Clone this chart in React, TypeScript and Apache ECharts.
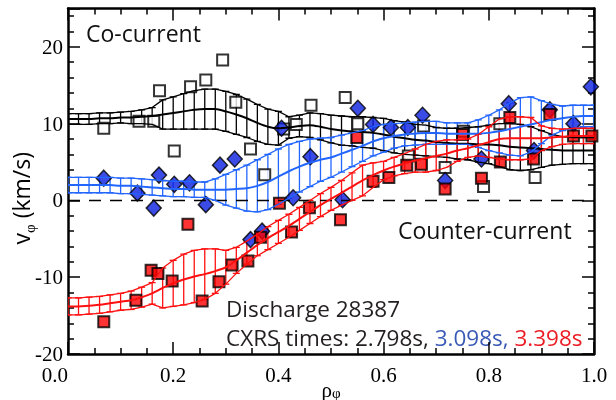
import React, { useEffect, useRef } from "react";
import * as echarts from "echarts";

// radial grid of the fitted profiles
const rho = [0, 0.02, 0.04, 0.06, 0.08, 0.1, 0.12, 0.14, 0.16, 0.18, 0.2, 0.22, 0.24, 0.26, 0.28, 0.3, 0.32, 0.34, 0.36, 0.38, 0.4, 0.42, 0.44, 0.46, 0.48, 0.5, 0.52, 0.54, 0.56, 0.58, 0.6, 0.62, 0.64, 0.66, 0.68, 0.7, 0.72, 0.74, 0.76, 0.78, 0.8, 0.82, 0.84, 0.86, 0.88, 0.9, 0.92, 0.94, 0.96, 0.98, 1.0];

// 2.798 s (black)
const fitBlack = [10.6, 10.6, 10.6, 10.7, 10.7, 10.8, 10.8, 10.9, 11.0, 11.2, 11.4, 11.6, 11.8, 11.9, 11.9, 11.6, 11.2, 10.7, 10.1, 9.6, 9.4, 9.5, 9.7, 9.8, 9.6, 9.3, 9.1, 9.0, 8.9, 8.8, 8.6, 8.3, 8.1, 7.9, 7.8, 7.6, 7.5, 7.4, 7.4, 7.3, 7.3, 7.2, 7.0, 6.9, 6.8, 6.7, 6.6, 6.5, 6.5, 6.5, 6.5];
const errBlack = [0.7, 0.7, 0.7, 0.7, 0.7, 0.7, 0.8, 0.9, 1.1, 1.9, 2.1, 2.3, 2.5, 2.6, 2.6, 2.6, 2.6, 2.5, 2.4, 2.3, 2.2, 1.4, 1.4, 1.6, 1.7, 1.8, 1.9, 1.9, 2.0, 2.0, 2.1, 2.1, 2.1, 2.0, 2.0, 1.9, 1.9, 2.0, 2.1, 2.3, 2.5, 2.8, 3.0, 3.0, 2.8, 2.4, 2.0, 1.8, 1.7, 1.7, 1.7];
// 3.098 s (blue)
const fitBlue = [2.0, 2.0, 2.0, 2.0, 2.0, 1.9, 1.9, 1.8, 1.7, 1.6, 1.5, 1.5, 1.4, 1.4, 1.4, 1.4, 1.5, 1.6, 1.9, 2.4, 3.1, 3.8, 4.4, 4.9, 5.3, 5.6, 6.1, 6.6, 7.1, 7.7, 8.1, 8.4, 8.6, 8.7, 8.8, 8.8, 8.7, 8.7, 8.7, 8.7, 8.8, 9.0, 9.3, 9.6, 9.9, 10.2, 10.5, 10.7, 10.9, 11.0, 11.0];
const errBlue = [1.0, 1.0, 1.0, 1.0, 1.0, 1.0, 1.0, 1.0, 1.0, 1.0, 1.0, 1.0, 1.0, 1.0, 1.4, 2.0, 2.5, 3.0, 3.4, 3.6, 3.6, 3.5, 3.3, 3.1, 2.8, 2.6, 2.4, 2.2, 2.0, 1.9, 1.8, 1.6, 1.5, 1.5, 1.5, 1.5, 1.4, 1.4, 1.4, 1.8, 2.3, 2.8, 3.4, 3.8, 3.6, 2.8, 2.0, 1.6, 1.5, 1.4, 1.4];
// 3.398 s (red)
const fitRed = [-13.8, -13.8, -13.7, -13.6, -13.4, -13.2, -13.0, -12.6, -12.1, -11.4, -10.8, -10.3, -9.9, -9.6, -9.2, -8.7, -7.8, -6.8, -5.8, -4.9, -4.1, -3.3, -2.4, -1.5, -0.6, 0.2, 1.0, 1.8, 2.6, 3.3, 3.9, 4.4, 4.8, 5.2, 5.5, 5.8, 6.1, 6.5, 6.8, 7.2, 7.6, 8.0, 8.1, 8.1, 8.1, 8.1, 8.2, 8.3, 8.4, 8.4, 8.4];
const errRed = [1.1, 1.1, 1.1, 1.1, 1.1, 1.1, 1.2, 1.3, 1.4, 2.6, 3.0, 3.3, 3.4, 3.3, 2.9, 2.2, 1.7, 1.5, 1.4, 1.5, 1.5, 1.5, 1.5, 1.5, 1.5, 1.5, 1.6, 1.8, 2.0, 1.6, 1.2, 1.2, 1.3, 1.5, 1.8, 1.9, 1.8, 1.4, 1.2, 1.4, 2.0, 2.6, 2.8, 2.8, 2.7, 1.6, 1.2, 1.0, 1.0, 1.0, 1.0];

// measured points [rho, v]
const ptsBlack = [[0.068, 9.4], [0.135, 10.3], [0.163, 10.3], [0.174, 14.3], [0.202, 6.45], [0.233, 14.8], [0.262, 15.7], [0.294, 18.3], [0.319, 12.8], [0.347, 6.7], [0.374, 3.35], [0.41, 9.3], [0.434, 9.9], [0.462, 12.4], [0.527, 13.4], [0.551, 10.0], [0.647, 5.8], [0.676, 9.7], [0.717, 4.3], [0.752, 9.0], [0.79, 1.8], [0.821, 10.0], [0.888, 3.0]];
const ptsBlue = [[0.068, 2.9], [0.132, 0.95], [0.163, -1.0], [0.173, 3.3], [0.202, 2.1], [0.231, 2.3], [0.262, -0.55], [0.289, 4.6], [0.317, 5.4], [0.347, -5.1], [0.369, -4.0], [0.406, 9.4], [0.428, 0.35], [0.461, 5.7], [0.522, 0.1], [0.551, 12.0], [0.58, 9.9], [0.614, 9.5], [0.646, 9.5], [0.674, 11.1], [0.717, 2.6], [0.786, 5.4], [0.838, 12.6], [0.886, 6.5], [0.916, 11.8], [0.961, 10.0], [0.994, 14.8]];
const ptsRed = [[0.068, -15.8], [0.129, -13.0], [0.158, -9.1], [0.171, -9.5], [0.198, -10.5], [0.228, -3.1], [0.255, -13.1], [0.287, -10.6], [0.312, -8.4], [0.342, -7.9], [0.366, -4.8], [0.402, -0.35], [0.425, -4.1], [0.459, -0.95], [0.518, -2.5], [0.549, 8.2], [0.58, 2.5], [0.61, 3.0], [0.644, 4.6], [0.672, 4.7], [0.717, 1.5], [0.75, 8.6], [0.786, 2.9], [0.822, 5.0], [0.84, 10.8], [0.885, 5.4], [0.916, 11.2], [0.961, 8.4], [0.996, 8.4]];

const xTicks = [0, 0.2, 0.4, 0.6, 0.8, 1.0];
const yTicks = [-20, -10, 0, 10, 20];

const C_BLACK = "#000000";
const C_BLUE = "#2266ff";
const C_RED = "#ff1010";

function band(fit: number[], err: number[], color: string, name: string) {
  const data = rho.map((x, i) => [x, fit[i], err[i]]);
  return [
    {
      type: "custom",
      name: name + " bars",
      clip: true,
      data,
      encode: { x: 0, y: 1 },
      renderItem: (params: any, api: any) => {
        const x = api.value(0);
        const c = api.value(1);
        const e = api.value(2);
        const t = api.coord([x, c + e]);
        const b = api.coord([x, c - e]);
        const hw = 3.5;
        const st = { stroke: color, lineWidth: 1.3 };
        return {
          type: "group",
          children: [
            { type: "line", shape: { x1: t[0], y1: t[1], x2: b[0], y2: b[1] }, style: st },
            { type: "line", shape: { x1: t[0] - hw, y1: t[1], x2: t[0] + hw, y2: t[1] }, style: st },
            { type: "line", shape: { x1: b[0] - hw, y1: b[1], x2: b[0] + hw, y2: b[1] }, style: st },
          ],
        };
      },
    },
    {
      type: "line",
      name: name + " upper",
      data: rho.map((x, i) => [x, fit[i] + err[i]]),
      showSymbol: false,
      lineStyle: { color, width: 1.3 },
    },
    {
      type: "line",
      name: name + " lower",
      data: rho.map((x, i) => [x, fit[i] - err[i]]),
      showSymbol: false,
      lineStyle: { color, width: 1.3 },
    },
    {
      type: "line",
      name: name + " fit",
      data: rho.map((x, i) => [x, fit[i]]),
      showSymbol: false,
      smooth: 0.3,
      lineStyle: { color, width: 2 },
    },
  ];
}

export default function App() {
  const ref = useRef<HTMLDivElement>(null);
  useEffect(() => {
    if (!ref.current) return;
    const chart = echarts.init(ref.current, null, { renderer: "svg" });
    const axisLine = { show: true, onZero: false, lineStyle: { color: "#000", width: 2.5 } };
    const tick = { show: true, inside: true, length: 12, lineStyle: { color: "#000", width: 1.5 } };
    const xMinor = { show: true, splitNumber: 4, length: 6, lineStyle: { color: "#000", width: 1.5 } };
    const yMinor = { show: true, splitNumber: 5, length: 6, lineStyle: { color: "#000", width: 1.5 } };
    const option: any = {
      animation: false,
      grid: { left: 68, top: 8.5, width: 526, height: 345.5, containLabel: false, outerBoundsMode: "none" },
      xAxis: [
        {
          type: "value",
          min: xTicks[0],
          max: xTicks[xTicks.length - 1],
          interval: 0.2,
          position: "bottom",
          axisLine,
          axisTick: tick,
          minorTick: xMinor,
          splitLine: { show: false },
          axisLabel: {
            formatter: (v: number) => v.toFixed(1),
            fontFamily: "Liberation Serif",
            fontSize: 21,
            lineHeight: 18,
            color: "#000",
            margin: 12,
            alignMinLabel: "right",
          },
          name: "{r|ρ}{s|φ}",
          nameLocation: "middle",
          nameGap: 25,
          nameMoveOverlap: false,
          nameTextStyle: {
            rich: {
              r: { fontFamily: "Liberation Serif", fontSize: 21, lineHeight: 20, color: "#000", verticalAlign: "top" },
              s: { fontFamily: "Liberation Serif", fontSize: 15, lineHeight: 14, color: "#000", verticalAlign: "top", padding: [6, 0, 0, 0] },
            },
          },
        },
        {
          type: "value",
          min: xTicks[0],
          max: xTicks[xTicks.length - 1],
          interval: 0.2,
          position: "top",
          axisLine,
          axisTick: tick,
          minorTick: xMinor,
          splitLine: { show: false },
          axisLabel: { show: false },
        },
      ],
      yAxis: [
        {
          type: "value",
          min: yTicks[0],
          max: 25,
          interval: 10,
          position: "left",
          axisLine,
          axisTick: tick,
          minorTick: yMinor,
          splitLine: { show: false },
          axisLabel: {
            fontFamily: "Liberation Serif",
            fontSize: 21,
            lineHeight: 16,
            color: "#000",
            margin: 5,
            showMaxLabel: false,
            formatter: (v: number) => (yTicks.includes(v) ? String(v) : ""),
          },
          name: "{v|v}{s|φ}{e| (km/s)}",
          nameLocation: "middle",
          nameRotate: 90,
          nameGap: 33,
          nameMoveOverlap: false,
          nameTextStyle: {
            rich: {
              v: { fontFamily: "Open Sans", fontSize: 23, lineHeight: 26, color: "#000", verticalAlign: "top" },
              s: { fontFamily: "Liberation Serif", fontSize: 15, lineHeight: 16, color: "#000", verticalAlign: "top", padding: [13, 0, 0, 0] },
              e: { fontFamily: "Open Sans", fontSize: 23, lineHeight: 26, color: "#000", verticalAlign: "top", padding: [0, 34, 0, 0] },
            },
          },
        },
        {
          type: "value",
          min: yTicks[0],
          max: 25,
          interval: 10,
          position: "right",
          axisLine,
          axisTick: tick,
          minorTick: yMinor,
          splitLine: { show: false },
          axisLabel: { show: false },
        },
      ],
      series: [
        {
          type: "line",
          name: "zero",
          data: [[0, 0], [1, 0]],
          showSymbol: false,
          lineStyle: { color: "#000", width: 1.5, type: [12, 9] },
        },
        ...band(fitBlack, errBlack, C_BLACK, "2.798s"),
        {
          type: "scatter",
          name: "2.798s data",
          data: ptsBlack,
          symbol: "rect",
          symbolSize: 11,
          itemStyle: { color: "#ffffff", borderColor: "#000", borderWidth: 2 },
        },
        ...band(fitBlue, errBlue, C_BLUE, "3.098s"),
        {
          type: "scatter",
          name: "3.098s data",
          data: ptsBlue,
          symbol: "diamond",
          symbolSize: [15, 16],
          itemStyle: { color: "#0a1fe0", borderColor: "#000", borderWidth: 1.5 },
        },
        ...band(fitRed, errRed, C_RED, "3.398s"),
        {
          type: "scatter",
          name: "3.398s data",
          data: ptsRed,
          symbol: "rect",
          symbolSize: 11,
          itemStyle: { color: "#ff0000", borderColor: "#000", borderWidth: 2 },
        },
      ],
      graphic: [
        {
          type: "text",
          x: 86,
          y: 33,
          style: { text: "Co-current", font: '23px "Open Sans"', fill: "#111", verticalAlign: "middle" },
        },
        {
          type: "text",
          x: 398,
          y: 230,
          style: { text: "Counter-current", font: '23px "Open Sans"', fill: "#111", verticalAlign: "middle" },
        },
        {
          type: "text",
          x: 226,
          y: 308,
          style: { text: "Discharge 28387", font: '22.5px "Open Sans"', fill: "#231f20", verticalAlign: "middle" },
        },
        {
          type: "text",
          x: 226,
          y: 337,
          style: {
            text: "{a|CXRS times: 2.798s, }{b|3.098s, }{c|3.398s}",
            verticalAlign: "middle",
            rich: {
              a: { font: '22.5px "Open Sans"', fill: "#231f20" },
              b: { font: '22.5px "Open Sans"', fill: "#3a5bb5" },
              c: { font: '22.5px "Open Sans"', fill: "#ec1c24" },
            },
          },
        },
      ],
    };
    chart.setOption(option);
    return () => chart.dispose();
  }, []);
  return <div ref={ref} style={{ position: "fixed", left: 0, top: 0, width: 616, height: 400 }} />;
}
